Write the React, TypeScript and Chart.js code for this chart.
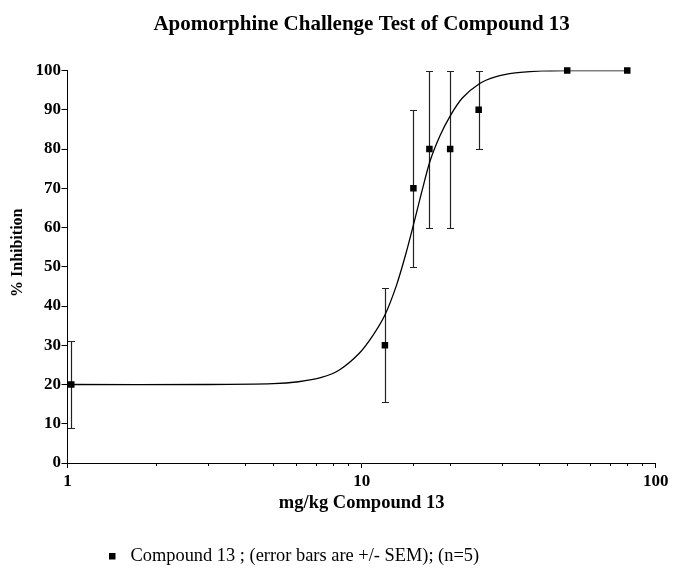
import React, { useEffect, useRef } from "react";
import { Chart, registerables } from "chart.js";

Chart.register(...registerables);

// Measured doses (mg/kg) and mean % inhibition
const doses = [1.03, 12, 15, 17, 20, 25, 50, 80];
const inhibition = [20, 30, 70, 80, 80, 90, 100, 100];
// SEM error bar ends (null = no bar)
const errLow: (number | null)[] = [9, 15.5, 50, 60, 60, 80, null, null];
const errHigh: (number | null)[] = [31, 44.5, 90, 100, 100, 100, null, null];

// Fitted curve
const curveDose = [1, 3, 5, 6.1, 7.3, 8.4, 9.8, 10.9, 12, 13.1, 14.1, 15.1, 16, 17.1, 18.5, 20.1, 22, 25.2, 28.5, 33.3, 41, 50, 80];
const curveInhibition = [20, 20, 20.2, 20.7, 21.8, 23.7, 27.9, 32.4, 37.7, 45, 53, 61.5, 69, 77, 83.5, 88.7, 93, 96.7, 98.4, 99.4, 99.9, 100, 100];

const xTickLabels = [1, 10, 100];
const yTicks = [0, 10, 20, 30, 40, 50, 60, 70, 80, 90, 100];

const titleText = "Apomorphine Challenge Test of Compound 13";
const xTitle = "mg/kg Compound 13";
const yTitle = "% Inhibition";
const legendText = "Compound 13 ; (error bars are +/- SEM); (n=5)";

const SERIF = "'Liberation Serif', 'Times New Roman', Times, serif";

const errorBarPlugin = {
  id: "errorBars",
  beforeDatasetsDraw(chart: any) {
    const { ctx, scales } = chart;
    const x = scales.x;
    const y = scales.y;
    ctx.save();
    ctx.strokeStyle = "#222";
    ctx.lineWidth = 1.2;
    doses.forEach((d, i) => {
      const lo = errLow[i];
      const hi = errHigh[i];
      if (lo == null || hi == null) return;
      const px = Math.round(x.getPixelForValue(d)) + 0.5;
      const pl = Math.round(y.getPixelForValue(lo)) + 0.5;
      const ph = Math.round(y.getPixelForValue(hi)) + 0.5;
      ctx.beginPath();
      ctx.moveTo(px, pl);
      ctx.lineTo(px, ph);
      ctx.moveTo(px - 3.5, pl);
      ctx.lineTo(px + 3.5, pl);
      ctx.moveTo(px - 3.5, ph);
      ctx.lineTo(px + 3.5, ph);
      ctx.stroke();
    });
    ctx.restore();
  },
};

const minorTickPlugin = {
  id: "minorTicks",
  afterDraw(chart: any) {
    const { ctx } = chart;
    const xs = chart.scales.x;
    ctx.save();
    ctx.strokeStyle = "#000";
    ctx.lineWidth = 1;
    xs.ticks.forEach((t: any) => {
      if (xTickLabels.includes(t.value)) return;
      const px = Math.round(xs.getPixelForValue(t.value)) + 0.5;
      ctx.beginPath();
      ctx.moveTo(px, xs.top);
      ctx.lineTo(px, xs.top + 3);
      ctx.stroke();
    });
    ctx.restore();
  },
};

const textPlugin = {
  id: "extraText",
  afterDraw(chart: any) {
    const { ctx, chartArea } = chart;
    ctx.save();
    // y-axis title
    ctx.fillStyle = "#000";
    ctx.font = `bold 16px ${SERIF}`;
    ctx.textAlign = "center";
    ctx.textBaseline = "middle";
    ctx.translate(10, (chartArea.top + chartArea.bottom) / 2 - 14);
    ctx.rotate(-Math.PI / 2);
    ctx.fillText(yTitle, 0, 0);
    ctx.restore();

    // legend
    ctx.save();
    const cy = chart.height - 16;
    const x0 = chartArea.left + 41.5;
    ctx.fillStyle = "#000";
    ctx.fillRect(x0, cy - 3, 6.5, 6.5);
    ctx.font = `18.4px ${SERIF}`;
    ctx.textBaseline = "middle";
    ctx.textAlign = "left";
    ctx.fillText(legendText, x0 + 21.5, cy);
    ctx.restore();
  },
};

export default function App() {
  const canvasRef = useRef<HTMLCanvasElement | null>(null);

  useEffect(() => {
    if (!canvasRef.current) return;
    const chart = new Chart(canvasRef.current, {
      type: "scatter",
      data: {
        datasets: [
          {
            label: "fit",
            data: curveDose.map((d, i) => ({ x: d, y: curveInhibition[i] })),
            showLine: true,
            borderColor: "#000",
            borderWidth: 1.3,
            pointRadius: 0,
            tension: 0.3,
            order: 2,
          } as any,
          {
            label: "Compound 13",
            data: doses.map((d, i) => ({ x: d, y: inhibition[i] })),
            pointStyle: "rect",
            pointRadius: 4.6,
            backgroundColor: "#000",
            borderColor: "#000",
            borderWidth: 0,
            clip: false,
            order: 1,
          } as any,
        ],
      },
      options: {
        animation: false,
        responsive: true,
        maintainAspectRatio: false,
        layout: { padding: { left: 0, right: 14.5, top: 0, bottom: 57 } },
        plugins: {
          legend: { display: false },
          tooltip: { enabled: false },
          title: {
            display: true,
            text: titleText,
            fullSize: false,
            color: "#000",
            font: { family: SERIF, size: 21, weight: "bold" },
            padding: { top: 3.6, bottom: 33.7 },
          },
        },
        scales: {
          x: {
            type: "logarithmic",
            min: 1,
            max: 100,
            afterFit: (s: any) => {
              s.height = 52;
            },
            border: { display: true, color: "#000", width: 1 },
            grid: {
              display: true,
              drawOnChartArea: false,
              drawTicks: true,
              tickLength: 5,
              color: (c: any) =>
                c.tick && xTickLabels.includes(c.tick.value) ? "#000" : "rgba(0,0,0,0)",
            },
            ticks: {
              autoSkip: false,
              maxRotation: 0,
              padding: 3.5,
              color: "#000",
              font: { family: SERIF, size: 17, weight: "bold" },
              callback: (v: any) => (xTickLabels.includes(Number(v)) ? String(v) : ""),
            },
            title: {
              display: true,
              text: xTitle,
              color: "#000",
              font: { family: SERIF, size: 18.5, weight: "bold" },
              padding: { top: 0, bottom: 1 },
            },
          },
          y: {
            type: "linear",
            min: 0,
            max: 100,
            afterFit: (s: any) => {
              s.width = 59.5;
            },
            afterBuildTicks: (s: any) => {
              s.ticks = yTicks.map((v) => ({ value: v }));
            },
            border: { display: true, color: "#000", width: 1 },
            grid: {
              display: true,
              drawOnChartArea: false,
              drawTicks: true,
              tickLength: 6,
              color: "#000",
            },
            ticks: {
              padding: 0.5,
              color: "#000",
              font: { family: SERIF, size: 17, weight: "bold" },
            },
            title: { display: false },
          },
        },
      } as any,
      plugins: [errorBarPlugin, minorTickPlugin, textPlugin],
    });
    return () => chart.destroy();
  }, []);

  return (
    <div style={{ width: 664, height: 564, position: "relative" }}>
      <canvas ref={canvasRef} />
    </div>
  );
}
